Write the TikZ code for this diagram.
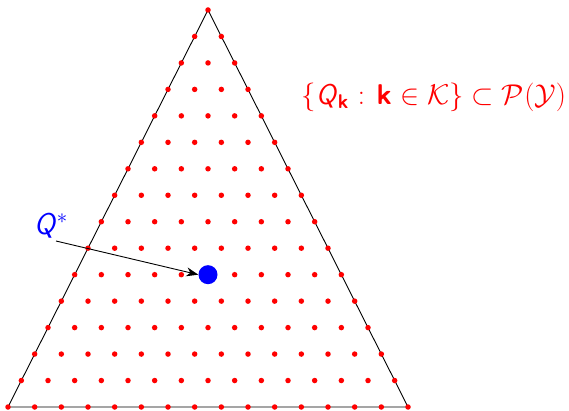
\documentclass[tikz,border=0pt]{standalone}
\usepackage{amsmath}
\usetikzlibrary{arrows.meta}
\begin{document}
\begin{tikzpicture}[x=1pt,y=-1pt,
  reddot/.style={circle,fill=red,inner sep=0pt,minimum size=5.5pt},
  bigdot/.style={circle,fill=blue,inner sep=0pt,minimum size=19pt},
  edge/.style={black,line width=0.9pt},
  lbl/.style={inner sep=1pt,font=\huge,scale=1.38}]
\useasboundingbox (0,0) rectangle (569,411);
\coordinate (A) at (208,10);
\coordinate (B) at (8,407);
\coordinate (C) at (408,407);
\draw[edge] (A) -- (B) -- (C) -- cycle;
\foreach \i in {0,...,15}{
  \foreach \j in {0,...,\i}{
    \node[reddot] (d-\i-\j) at ({208-\i*200/15+\j*400/15},{10+\i*397/15}) {};
  }
}
\node[bigdot] (qs) at (d-10-5) {};
\node[lbl,text=blue,anchor=center,scale=1.05] (qlab) at (51,226) {\textsf{\itshape Q}$^{*}$};
\coordinate (qstart) at (56,241);
\draw[-{Stealth[length=12pt,width=9pt]},line width=0.9pt] (qstart) -- (qs.west);
\node[lbl,text=red,anchor=center] (set) at (434,97) {$\{$\textsf{\itshape Q}$_{\textsf{\bfseries k}}$ : \textsf{\bfseries k} $\in\mathcal{K}\}\subset\mathcal{P}(\mathcal{Y})$};
\end{tikzpicture}
\end{document}
